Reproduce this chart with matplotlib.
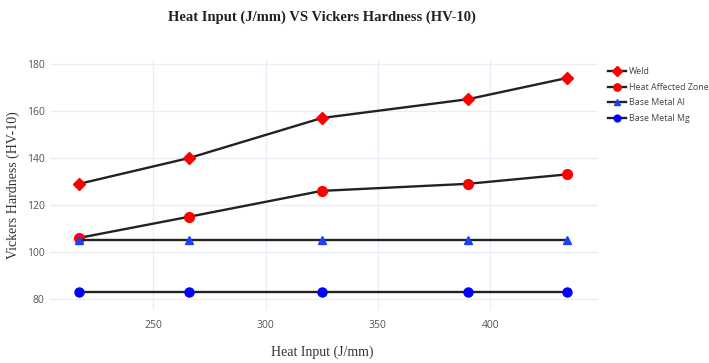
import matplotlib
matplotlib.use("Agg")
import matplotlib.pyplot as plt

heat_input = [217, 266, 325, 390, 434]
weld = [129, 140, 157, 165, 174]
haz = [106, 115, 126, 129, 133]
base_al = [105, 105, 105, 105, 105]
base_mg = [83, 83, 83, 83, 83]
series_names = ["Weld", "Heat Affected Zone", "Base Metal Al", "Base Metal Mg"]
x_ticks = [250, 300, 350, 400]
y_ticks = [80, 100, 120, 140, 160, 180]

W, H = 709, 363
fig = plt.figure(figsize=(W/100, H/100), dpi=100)
L, R, T, B = 50, 598, 60, 310
ax = fig.add_axes([L/W, 1-B/H, (R-L)/W, (B-T)/H])

styles = [
    (weld, "D", "#ff0000", 6.5),
    (haz, "o", "#ff0000", 7),
    (base_al, "^", "#1f3fff", 6),
    (base_mg, "o", "#0000ff", 6.5),
]
for (vals, m, c, ms), name in zip(styles, series_names):
    ax.plot(heat_input, vals, color="#222222", lw=1.7, marker=m, markersize=ms,
            markerfacecolor=c, markeredgecolor=c, label=name, zorder=3)

ax.set_xlim(204, 448)
ax.set_ylim(75.3, 181.7)
ax.set_xticks(x_ticks)
ax.set_yticks(y_ticks)
ax.grid(True, color="#e8edf6", lw=0.9)
for s in ax.spines.values():
    s.set_visible(False)
ax.tick_params(length=0, labelsize=7.5, labelcolor="#555555")
ax.tick_params(axis="y", pad=4)
ax.tick_params(axis="x", pad=7)
for lab in ax.get_xticklabels() + ax.get_yticklabels():
    lab.set_family("Open Sans")

fig.text(322/W, 1 - 17/H, "Heat Input (J/mm) VS Vickers Hardness (HV-10)",
         ha="center", va="center", family="Liberation Serif", fontweight="bold", fontsize=10.5, color="#222222")
fig.text(322/W, 1 - 352/H, "Heat Input (J/mm)", ha="center", va="center",
         family="Liberation Serif", fontsize=10, color="#333333")
fig.text(13/W, 1 - 185/H, "Vickers Hardness (HV-10)", ha="center", va="center", rotation=90,
         family="Liberation Serif", fontsize=10, color="#333333")

leg = ax.legend(loc="upper left", bbox_to_anchor=(608/W, 1 - 67/H), bbox_transform=fig.transFigure,
                frameon=False, prop={"family": "Open Sans", "size": 6.4}, handlelength=2.0,
                labelspacing=0.75, borderaxespad=0, borderpad=0, handletextpad=0.4, markerscale=0.75)
for t in leg.get_texts():
    t.set_color("#444444")

fig.savefig("out.png", dpi=100, facecolor="white")
